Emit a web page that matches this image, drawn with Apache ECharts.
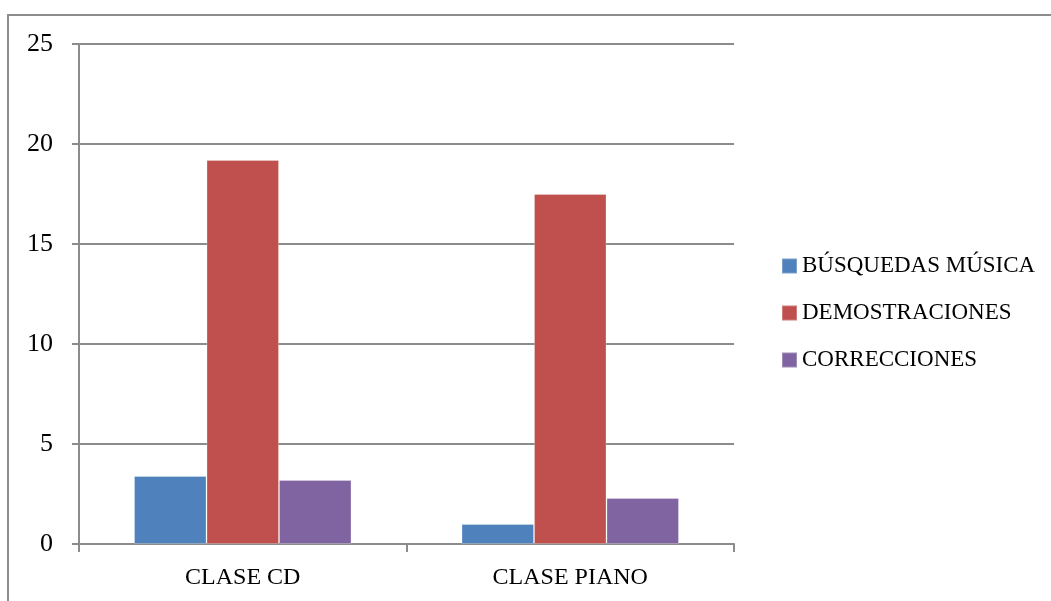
<!DOCTYPE html>
<html>
<head>
<meta charset="utf-8">
<script src="https://cdn.jsdelivr.net/npm/echarts@6/dist/echarts.min.js"></script>
<style>
html,body{margin:0;padding:0;background:#fff;}
#chart{width:1051px;height:601px;}
</style>
</head>
<body>
<div id="chart"></div>
<script>
const categories = ['CLASE CD', 'CLASE PIANO'];
const seriesNames = ['BÚSQUEDAS MÚSICA', 'DEMOSTRACIONES', 'CORRECCIONES'];
const busquedas = [3.4, 1.0];
const demostraciones = [19.2, 17.5];
const correcciones = [3.2, 2.3];
const yTicks = [0, 5, 10, 15, 20, 25];
const colors = ['#4F81BD', '#C0504D', '#8064A2'];

const FONT = 'Liberation Serif';
const axisGray = '#8c8c8c';

const chart = echarts.init(document.getElementById('chart'), null, {renderer: 'canvas'});
const dataSets = [busquedas, demostraciones, correcciones];

chart.setOption({
  animation: false,
  backgroundColor: '#fff',
  textStyle: {fontFamily: FONT},
  color: colors,
  graphic: [{
    type: 'rect',
    shape: {x: 8, y: 15, width: 1200, height: 800},
    style: {fill: 'none', stroke: axisGray, lineWidth: 2},
    silent: true
  }],
  grid: {left: 79, right: 317, top: 44, bottom: 57, containLabel: false},
  legend: {
    orient: 'vertical',
    left: 776,
    top: 249.5,
    icon: 'rect',
    itemWidth: 15,
    itemHeight: 15,
    itemGap: 24,
    data: seriesNames,
    textStyle: {fontFamily: FONT, fontSize: 23, color: '#000', lineHeight: 23}
  },
  xAxis: {
    type: 'category',
    data: categories,
    axisLine: {lineStyle: {color: axisGray, width: 2}},
    axisTick: {show: true, length: 8, lineStyle: {color: axisGray, width: 2}},
    axisLabel: {fontFamily: FONT, fontSize: 24, color: '#000', margin: 22, lineHeight: 24}
  },
  yAxis: {
    type: 'value',
    min: yTicks[0],
    max: yTicks[yTicks.length - 1],
    interval: 5,
    axisLine: {show: true, lineStyle: {color: axisGray, width: 2}},
    axisTick: {show: true, length: 7, lineStyle: {color: axisGray, width: 2}},
    splitLine: {show: true, lineStyle: {color: axisGray, width: 2}},
    axisLabel: {fontFamily: FONT, fontSize: 26, color: '#000', margin: 26}
  },
  series: seriesNames.map((name, i) => ({
    name: name,
    type: 'bar',
    data: dataSets[i],
    barGap: '0%',
    barCategoryGap: '33.6%',
    itemStyle: {color: colors[i], borderColor: 'rgba(255,255,255,0.25)', borderWidth: 1}
  }))
});
</script>
</body>
</html>
